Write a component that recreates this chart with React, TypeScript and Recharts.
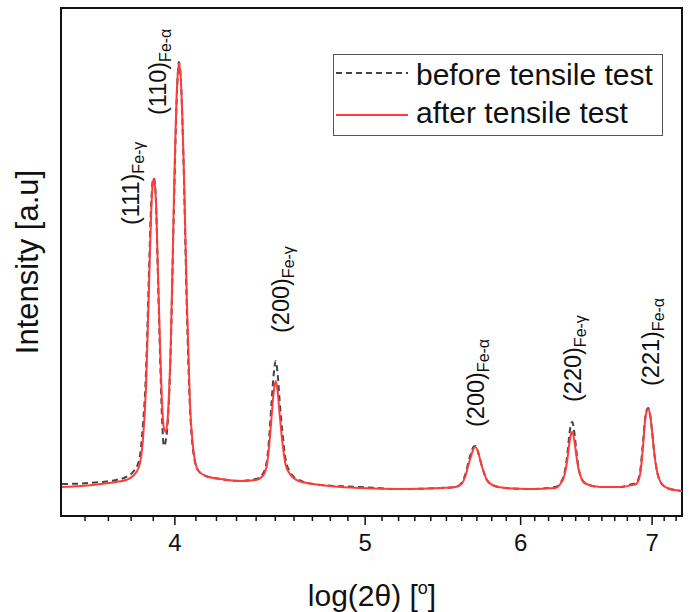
import React from "react";
import { LineChart, Line, XAxis, YAxis, ReferenceArea, ReferenceDot, Legend } from "recharts";

// log(2θ) positions shared by both scans
const twoTheta = [
  3.5043, 3.5831, 3.668, 3.733, 3.777, 3.808, 3.8349, 3.8529, 3.8664, 3.8801,
  3.8892, 3.8983, 3.9028, 3.912, 3.9212, 3.9304, 3.9396, 3.9488, 3.9581, 3.9674,
  3.9813, 3.9953, 4.0094, 4.0188, 4.0282, 4.0424, 4.0566, 4.0709, 4.0852, 4.1092,
  4.1479, 4.2214, 4.3214, 4.398, 4.4342, 4.455, 4.4706, 4.4811, 4.4916, 4.5022,
  4.5127, 4.5233, 4.5392, 4.5552, 4.5819, 4.6251, 4.7458, 4.9733, 5.2119, 5.4618,
  5.5586, 5.5978, 5.6241, 5.6438, 5.6637, 5.677, 5.6903, 5.7036, 5.717, 5.7371,
  5.764, 5.8047, 5.8938, 6.0688, 6.2491, 6.2858, 6.3152, 6.3375, 6.3523, 6.3672,
  6.3747, 6.3896, 6.4046, 6.4196, 6.4422, 6.48, 6.5871, 6.7432, 6.8386, 6.8707,
  6.903, 6.9272, 6.9435, 6.9597, 6.9679, 6.9842, 7.0006, 7.017, 7.0417, 7.0748,
  7.1246, 7.1917, 7.25,
];

const beforeTest = [
  320, 325, 340, 360, 390, 440, 550, 910, 1410, 2410,
  3060, 3360, 3380, 3160, 2410, 1660, 1010, 700, 760, 960,
  1710, 3060, 4210, 4540, 4360, 3410, 2060, 1110, 680, 460,
  400, 370, 350, 370, 420, 540, 860, 1160, 1420, 1550,
  1410, 1140, 810, 560, 430, 360, 310, 290, 270, 280,
  290, 330, 420, 540, 640, 690, 700, 660, 590, 480,
  370, 310, 280, 270, 290, 330, 420, 610, 810, 930,
  940, 840, 660, 500, 380, 320, 290, 290, 320, 330,
  450, 760, 980, 1070, 1080, 1010, 840, 640, 440, 330,
  280, 260, 250,
];

const afterTest = [
  290, 300, 320, 340, 360, 400, 490, 760, 1260, 2260,
  2960, 3340, 3370, 3160, 2460, 1760, 1160, 880, 840, 1010,
  1760, 3160, 4260, 4530, 4360, 3460, 2160, 1160, 710, 460,
  400, 370, 350, 360, 400, 500, 760, 1010, 1240, 1350,
  1240, 1010, 710, 510, 410, 350, 310, 280, 270, 280,
  290, 320, 400, 510, 610, 670, 690, 660, 590, 480,
  370, 310, 280, 270, 280, 320, 400, 560, 720, 830,
  840, 760, 610, 480, 380, 320, 290, 290, 310, 320,
  420, 710, 960, 1060, 1070, 1010, 840, 640, 440, 330,
  280, 260, 250,
];

const axisTicks = [
  3.6, 3.7, 3.8, 3.9, 4, 4.1, 4.2, 4.3, 4.4, 4.5, 4.6, 4.7, 4.8, 4.9, 5,
  5.1, 5.2, 5.3, 5.4, 5.5, 5.6, 5.7, 5.8, 5.9, 6, 6.1, 6.2, 6.3, 6.4, 6.5,
  6.6, 6.7, 6.8, 6.9, 7, 7.1, 7.2,
];
const majorTicks = [4, 5, 6, 7];

// peak annotations
const peakHkl = ["(111)", "(110)", "(200)", "(200)", "(220)", "(221)"];
const peakPhase = ["Fe-γ", "Fe-α", "Fe-γ", "Fe-α", "Fe-γ", "Fe-α"];
const peakTagX = [3.8349, 3.9581, 4.5713, 5.7506, 6.4422, 7.0582];
const peakTagY = [2910, 4010, 1830, 890, 1140, 1300];

const data = twoTheta.map((x, i) => ({ x, before: beforeTest[i], after: afterTest[i] }));

const FONT = "'Liberation Sans', Arial, sans-serif";
const INK = "#111";
const RED = "#ff3c3c";

function AxisTick({ x, y, payload }: any) {
  const major = majorTicks.includes(payload.value);
  return (
    <g>
      <line x1={x} x2={x} y1={y} y2={y + (major ? 9 : 5)} stroke={INK} strokeWidth={1.5} />
      {major && (
        <text x={x} y={y + 35} textAnchor="middle" fontSize={24} fontFamily={FONT} fill={INK}>
          {payload.value}
        </text>
      )}
    </g>
  );
}

function PeakTag({ cx, cy, hkl, phase }: any) {
  return (
    <text
      x={cx}
      y={cy}
      transform={`rotate(-90 ${cx} ${cy})`}
      fontSize={23.5}
      fontFamily={FONT}
      fill={INK}
    >
      {hkl}
      <tspan fontSize={16} dy={5}>
        {phase}
      </tspan>
    </text>
  );
}

function LegendBox() {
  return (
    <svg width={330} height={82} style={{ display: "block" }}>
      <rect x={0.5} y={0.5} width={329} height={81} fill="#fff" stroke="#555" />
      <line x1={3} x2={75} y1={19} y2={19} stroke="#444" strokeWidth={2} strokeDasharray="6 4" />
      <line x1={3} x2={75} y1={61} y2={61} stroke={RED} strokeWidth={2} />
      <text x={83} y={31} fontSize={30} fontFamily={FONT} fill={INK}>
        before tensile test
      </text>
      <text x={83} y={69} fontSize={30} fontFamily={FONT} fill={INK}>
        after tensile test
      </text>
    </svg>
  );
}

export default function App() {
  return (
    <div style={{ position: "absolute", left: 0, top: 0, width: 692, height: 612, background: "#fff" }}>
      <LineChart
        width={692}
        height={612}
        data={data}
        margin={{ top: 8, right: 10, left: 61, bottom: 56 }}
      >
        <XAxis
          dataKey="x"
          type="number"
          scale="log"
          domain={[3.5, 7.25]}
          allowDataOverflow
          ticks={axisTicks}
          interval={0}
          tickSize={0}
          tickMargin={0}
          tickLine={false}
          tick={<AxisTick />}
          height={40}
          axisLine={{ stroke: INK, strokeWidth: 2 }}
        />
        <YAxis type="number" domain={[0, 5080]} allowDataOverflow hide />
        <ReferenceArea
          x1={3.5}
          x2={7.25}
          y1={0}
          y2={5080}
          fill="none"
          stroke={INK}
          strokeWidth={2}
          fillOpacity={0}
        />
        <Line
          type="monotone"
          dataKey="before"
          stroke="#444"
          strokeWidth={2}
          strokeDasharray="6 4"
          dot={false}
          isAnimationActive={false}
        />
        <Line
          type="monotone"
          dataKey="after"
          stroke={RED}
          strokeWidth={2}
          dot={false}
          isAnimationActive={false}
        />
        {peakHkl.map((hkl, i) => (
          <ReferenceDot
            key={i}
            x={peakTagX[i]}
            y={peakTagY[i]}
            r={1}
            ifOverflow="visible"
            shape={(p: any) => <PeakTag cx={p.cx} cy={p.cy} hkl={hkl} phase={peakPhase[i]} />}
          />
        ))}
        <Legend
          verticalAlign="middle"
          align="center"
          wrapperStyle={{ position: "absolute", left: 333, top: 54, width: 330, height: 82 }}
          content={() => <LegendBox />}
        />
        <text
          x={38}
          y={262}
          transform="rotate(-90 38 262)"
          textAnchor="middle"
          fontSize={31}
          fontFamily={FONT}
          fill={INK}
        >
          Intensity [a.u]
        </text>
        <text x={372} y={606} textAnchor="middle" fontSize={30} fontFamily={FONT} fill={INK}>
          log(2θ) [
          <tspan fontSize={18} dy={-12}>
            o
          </tspan>
          <tspan dy={12}>]</tspan>
        </text>
      </LineChart>
    </div>
  );
}
